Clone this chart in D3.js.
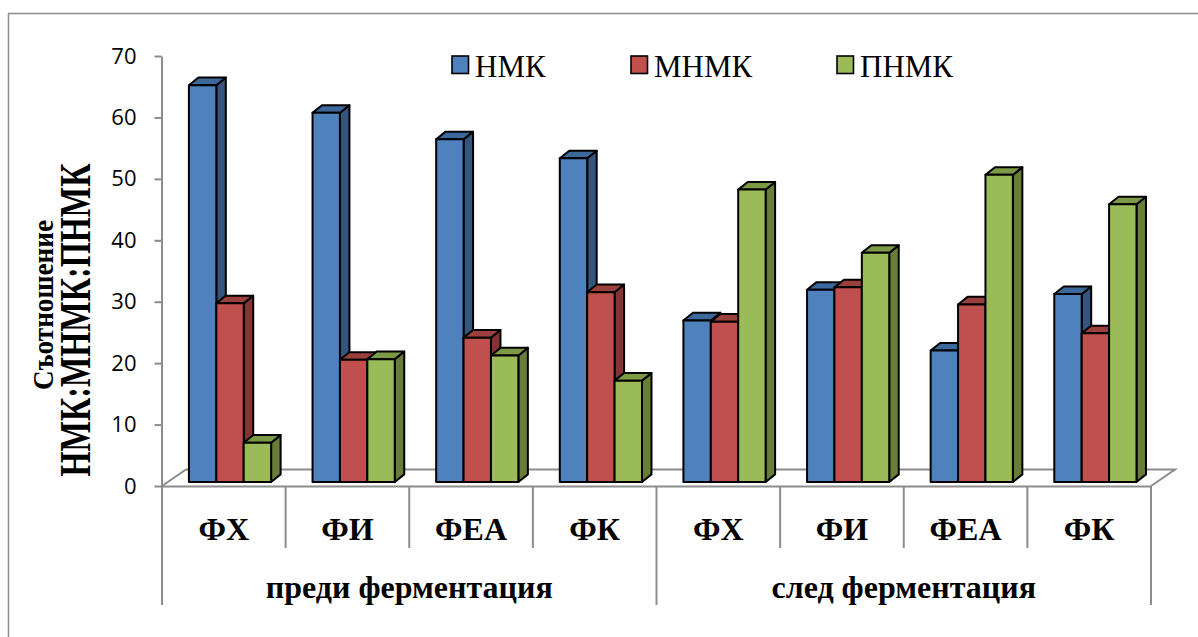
<!DOCTYPE html>
<html>
<head>
<meta charset="utf-8">
<script src="https://cdn.jsdelivr.net/npm/d3@7"></script>
<style>
  html, body { margin: 0; padding: 0; background: #fff; }
  svg { display: block; }
</style>
</head>
<body>
<svg id="chart" width="1198" height="637"></svg>
<script>
// Ratio of fatty acid groups before and after fermentation
const groups = ["преди ферментация", "след ферментация"];
const categories = ["ФХ", "ФИ", "ФЕА", "ФК", "ФХ", "ФИ", "ФЕА", "ФК"];
const seriesNames = ["НМК", "МНМК", "ПНМК"];
const nmk  = [64.6, 60.1, 55.8, 52.7, 26.3, 31.3, 21.4, 30.6];
const mnmk = [29.1, 19.9, 23.5, 30.9, 26.1, 31.7, 28.9, 24.2];
const pnmk = [6.4, 20.0, 20.6, 16.5, 47.6, 37.3, 50.0, 45.2];
const yTicks = [0, 10, 20, 30, 40, 50, 60, 70];
const yTitle = ["Съотношение", "НМК:МНМК:ПНМК"];

const series = [nmk, mnmk, pnmk];
const faces = [
  { front: "#4F81BD", top: "#3D689B", side: "#35557E" },
  { front: "#C0504D", top: "#9A403D", side: "#843533" },
  { front: "#9BBB59", top: "#7C9946", side: "#677D38" }
];

const svg = d3.select("#chart");

// outer frame
svg.append("rect")
  .attr("x", 8.5).attr("y", 13.5).attr("width", 1260).attr("height", 700)
  .attr("fill", "none").attr("stroke", "#8c8c8c").attr("stroke-width", 1.5);

const x0 = 162, x1 = 1151;
const y = d3.scaleLinear().domain([0, 70]).range([486, 56]);
const x = d3.scaleBand().domain(d3.range(categories.length)).range([x0, x1]).padding(0);

// floor depth and bar depth (oblique projection)
const floorDx = 24, floorDy = -16.5;
const barDx = 9.5, barDy = -7.6;
const planeDx = 6.2, planeDy = -4;   // bars stand slightly behind the front edge
const barW = 27.4;

// floor
svg.append("path")
  .attr("d", `M${x0},486 L${x0 + floorDx},${486 + floorDy} L${x1 + floorDx},${486 + floorDy} L${x1},486`)
  .attr("fill", "none").attr("stroke", "#8c8c8c").attr("stroke-width", 2);

// value axis
const yAxis = svg.append("g")
  .attr("transform", `translate(${x0 - 0.5},0)`)
  .call(d3.axisLeft(y).tickValues(yTicks).tickSize(7).tickPadding(18).tickSizeOuter(0));
yAxis.select(".domain").attr("stroke", "#8c8c8c").attr("stroke-width", 2);
yAxis.selectAll(".tick line").attr("stroke", "#8c8c8c").attr("stroke-width", 2);
yAxis.selectAll(".tick text")
  .attr("font-family", "'Open Sans', sans-serif")
  .attr("font-size", 22).attr("fill", "#000");

// category axis line and dividers
svg.append("line")
  .attr("x1", x0).attr("x2", x1).attr("y1", 486.5).attr("y2", 486.5)
  .attr("stroke", "#8c8c8c").attr("stroke-width", 2);
const bounds = d3.range(categories.length + 1);
svg.selectAll("line.div").data(bounds).enter().append("line")
  .attr("class", "div")
  .attr("x1", i => i === categories.length ? x1 : x(i))
  .attr("x2", i => i === categories.length ? x1 : x(i))
  .attr("y1", 486)
  .attr("y2", i => i % 4 === 0 ? 605 : 548)
  .attr("stroke", "#8c8c8c").attr("stroke-width", 2);

// category labels
svg.selectAll("text.cat").data(categories).enter().append("text")
  .attr("class", "cat")
  .attr("x", (d, i) => x(i) + x.bandwidth() / 2)
  .attr("y", 540)
  .attr("text-anchor", "middle")
  .attr("font-family", "'Liberation Serif', 'Times New Roman', serif")
  .attr("font-weight", "bold").attr("font-size", 32)
  .text(d => d);

// group labels
svg.selectAll("text.grp").data(groups).enter().append("text")
  .attr("class", "grp")
  .attr("x", (d, g) => (x(g * 4) + (g === 1 ? x1 : x(4))) / 2)
  .attr("y", 598)
  .attr("text-anchor", "middle")
  .attr("font-family", "'Liberation Serif', 'Times New Roman', serif")
  .attr("font-weight", "bold").attr("font-size", 32)
  .text(d => d);

// 3D bars, drawn left to right so each bar covers its neighbour's side face
const groupOffset = (x.bandwidth() - barW * series.length) / 2 + planeDx;
const barsG = svg.append("g");
categories.forEach((c, i) => {
  series.forEach((vals, s) => {
    const v = vals[i];
    const left = x(i) + groupOffset + s * barW;
    const right = left + barW;
    const bottom = y(0) + planeDy;
    const top = y(v) + planeDy;
    const g = barsG.append("g");
    const style = sel => sel.attr("stroke", "#000").attr("stroke-width", 2)
      .attr("stroke-linejoin", "round");
    // side
    g.append("path")
      .attr("d", `M${right},${bottom} L${right + barDx},${bottom + barDy} L${right + barDx},${top + barDy} L${right},${top} Z`)
      .attr("fill", faces[s].side).call(style);
    // top
    g.append("path")
      .attr("d", `M${left},${top} L${left + barDx},${top + barDy} L${right + barDx},${top + barDy} L${right},${top} Z`)
      .attr("fill", faces[s].top).call(style);
    // front
    g.append("rect")
      .attr("x", left).attr("y", top).attr("width", barW).attr("height", bottom - top)
      .attr("fill", faces[s].front).call(style);
  });
});

// legend
const legendX = [452, 631, 837];
const legend = svg.selectAll("g.leg").data(seriesNames).enter().append("g")
  .attr("class", "leg")
  .attr("transform", (d, i) => `translate(${legendX[i]},56)`);
legend.append("rect")
  .attr("width", 16.5).attr("height", 17.5)
  .attr("fill", (d, i) => faces[i].front)
  .attr("stroke", "#000").attr("stroke-width", 1.6);
legend.append("text")
  .attr("x", 23).attr("y", 21)
  .attr("font-family", "'Liberation Serif', 'Times New Roman', serif")
  .attr("font-size", 31)
  .text(d => d);

// value axis title, two rotated lines
svg.append("text")
  .attr("transform", "translate(53,305) rotate(-90)")
  .attr("text-anchor", "middle")
  .attr("font-family", "'Liberation Serif', 'Times New Roman', serif")
  .attr("font-weight", "bold").attr("font-size", 30)
  .attr("textLength", 170).attr("lengthAdjust", "spacingAndGlyphs")
  .text(yTitle[0]);
svg.append("text")
  .attr("transform", "translate(90,320) rotate(-90)")
  .attr("text-anchor", "middle")
  .attr("font-family", "'Liberation Serif', 'Times New Roman', serif")
  .attr("font-weight", "bold").attr("font-size", 44)
  .attr("textLength", 313).attr("lengthAdjust", "spacingAndGlyphs")
  .text(yTitle[1]);
</script>
</body>
</html>
